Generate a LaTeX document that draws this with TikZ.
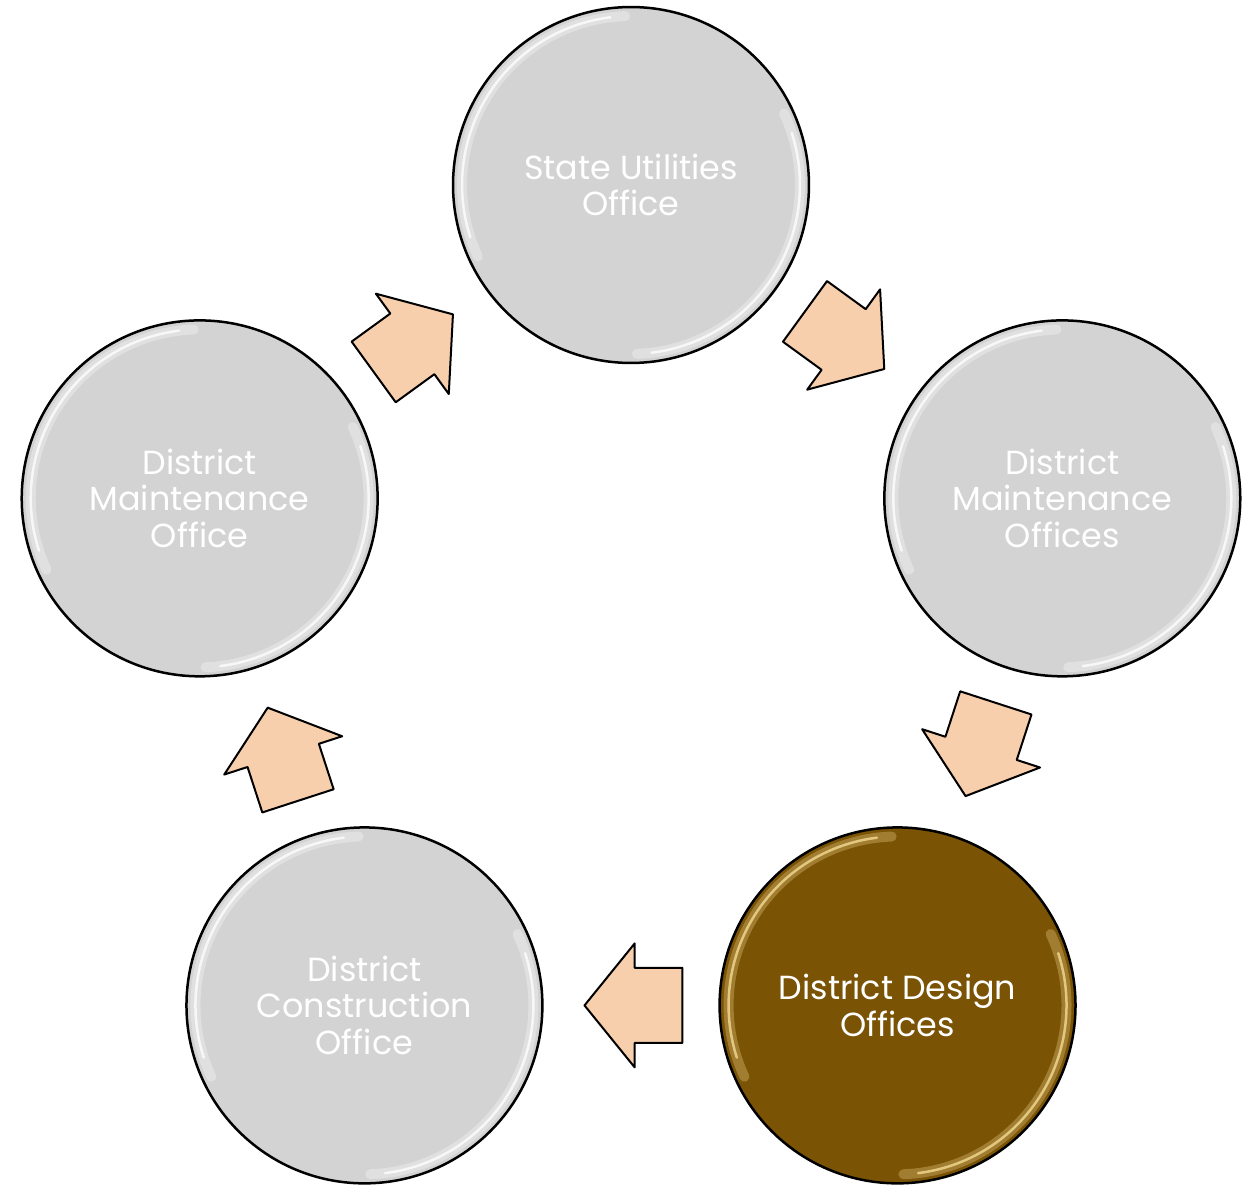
\documentclass[tikz,border=0pt]{standalone}
\usepackage{fontspec}
\setmainfont{Poppins}
\usetikzlibrary{calc}
\usetikzlibrary{shapes.arrows}
\definecolor{d3d3d3}{rgb}{0.827,0.827,0.827}
\definecolor{brownqq}{rgb}{0.478,0.325,0.02}
\definecolor{peachqq}{rgb}{0.973,0.812,0.675}
\definecolor{goldqq}{rgb}{0.98,0.88,0.6}
\tikzstyle{every node}=[font=\fontsize{19}{21}\selectfont]
\tikzset{
  office/.style={circle,draw=black,line width=0.05cm,fill=d3d3d3,minimum size=7.12cm,inner sep=0,align=center,text=white,
    path picture={
      \draw[#1,opacity=0.3,line width=0.2cm] (path picture bounding box.center) ++(92:3.38cm) arc[start angle=92,end angle=205,radius=3.38cm];
      \draw[#1,opacity=0.75,line width=0.05cm] (path picture bounding box.center) ++(97:3.38cm) arc[start angle=97,end angle=198,radius=3.38cm];
      \draw[#1,opacity=0.3,line width=0.2cm] (path picture bounding box.center) ++(25:3.38cm) arc[start angle=25,end angle=-88,radius=3.38cm];
      \draw[#1,opacity=0.75,line width=0.05cm] (path picture bounding box.center) ++(18:3.38cm) arc[start angle=18,end angle=-83,radius=3.38cm];
    }},
  office/.default=white,
  flow/.style={single arrow,draw=black,line width=0.04cm,fill=peachqq,minimum height=1.96cm,anchor=tip,
    inner xsep=0,inner ysep=0.73cm,single arrow head extend=0.49cm,single arrow tip angle=102,outer sep=0}
}

\begin{document}
\begin{tikzpicture}[line cap=round,line join=round,x=0.02cm,y=0.02cm]
            \useasboundingbox (-631,-548.5) rectangle (620,638.5);
            % offices round the cycle
            \node[office] (state) at (90:453.5) {State Utilities\\Office};
            \node[office] (dmoffices) at (18:453.5) {District\\Maintenance\\Offices};
            \node[office=goldqq,fill=brownqq] (design) at (-54:453.5) {District Design\\Offices};
            \node[office] (construct) at (-126:453.5) {District\\Construction\\Office};
            \node[office] (dmoffice) at (162:453.5) {District\\Maintenance\\Office};
            % block arrows between them, tip just past the midpoint
            \node[flow,rotate=-36] (a1) at ($(state)!0.5!(dmoffices)!0.93cm!(dmoffices)$) {};
            \node[flow,rotate=-108] (a2) at ($(dmoffices)!0.5!(design)!0.93cm!(design)$) {};
            \node[flow,rotate=180] (a3) at ($(design)!0.5!(construct)!0.93cm!(construct)$) {};
            \node[flow,rotate=108] (a4) at ($(construct)!0.5!(dmoffice)!0.93cm!(dmoffice)$) {};
            \node[flow,rotate=36] (a5) at ($(dmoffice)!0.5!(state)!0.93cm!(state)$) {};
\end{tikzpicture}
\end{document}
